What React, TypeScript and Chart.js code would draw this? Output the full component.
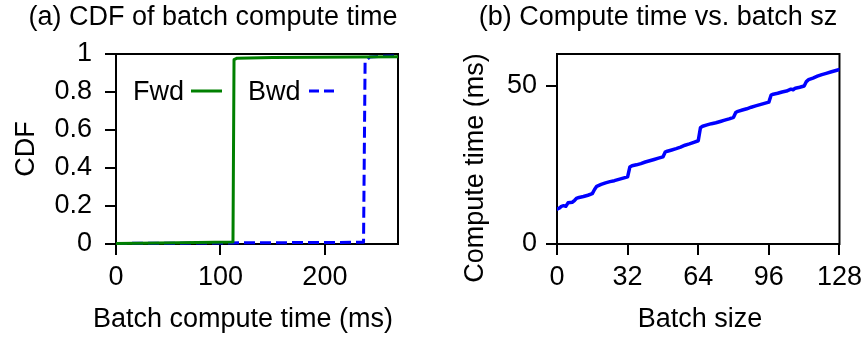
import React, { useEffect, useRef } from "react";
import { Chart, registerables } from "chart.js";

Chart.register(...registerables);

const FONT = "'Liberation Sans', Arial, Helvetica, sans-serif";
const GREEN = "#008000";
const BLUE = "#0000ff";

// ---- (a) CDF of batch compute time ----
const fwdTimes = [0, 60, 112, 113, 116, 150, 270];
const fwdCdf = [0.003, 0.006, 0.01, 0.97, 0.978, 0.982, 0.985];
const bwdTimes = [0, 120, 237, 238.5, 243, 255, 270];
const bwdCdf = [0.003, 0.006, 0.009, 0.96, 0.984, 0.988, 0.99];
const cdfXTicks = [0, 100, 200];
const cdfXTickLabels = ["0", "100", "200"];
const cdfYTicks = [0, 0.2, 0.4, 0.6, 0.8, 1];
const cdfYTickLabels = ["0", "0.2", "0.4", "0.6", "0.8", "1"];
const legendLabels = ["Fwd", "Bwd"];

// ---- (b) Compute time vs. batch size ----
const batchSizes = [
  0, 1, 2, 3, 4, 5, 6, 7, 8, 9, 10, 12, 14, 16, 17, 18, 20, 22, 24, 26, 28, 30, 32, 33, 34, 36, 38, 40, 42,
  44, 46, 48, 49, 50, 52, 54, 56, 58, 60, 62, 64, 65, 66, 68, 70, 72, 74, 76, 78, 80, 81, 82, 84, 86, 88,
  90, 92, 94, 96, 97, 98, 100, 102, 104, 106, 107, 108, 110, 112, 113, 114, 116, 118, 120, 122, 124, 126,
  128,
];
const computeTimesMs = [
  11.0, 11.3, 11.9, 12.1, 11.9, 13.0, 13.1, 13.2, 13.8, 14.5, 14.7, 15.0, 15.4, 15.9, 17.2, 18.2, 18.8,
  19.3, 19.7, 20.0, 20.4, 20.8, 21.2, 24.3, 24.7, 25.0, 25.4, 25.9, 26.3, 26.7, 27.1, 27.5, 29.0, 29.3,
  29.7, 30.1, 30.6, 31.2, 31.6, 32.1, 32.6, 36.7, 37.2, 37.6, 38.0, 38.3, 38.7, 39.1, 39.5, 40.0, 41.5,
  41.9, 42.3, 42.7, 43.2, 43.6, 44.0, 44.4, 44.8, 47.0, 47.3, 47.6, 48.0, 48.3, 48.9, 48.7, 49.2, 49.5,
  49.9, 51.3, 51.9, 52.4, 53.0, 53.5, 53.9, 54.3, 54.7, 55.1,
];
const bsXTicks = [0, 32, 64, 96, 128];
const bsXTickLabels = ["0", "32", "64", "96", "128"];
const bsYTicks = [0, 50];
const bsYTickLabels = ["0", "50"];

type Txt = { text: string; x: number; y: number; size: number; rot?: boolean; align?: CanvasTextAlign };

function makeDecor(texts: Txt[], legend?: boolean) {
  return {
    id: "decor",
    beforeDatasetsDraw(chart: any) {
      const { ctx, chartArea: a } = chart;
      ctx.save();
      ctx.strokeStyle = "#000";
      ctx.lineWidth = 2;
      ctx.strokeRect(a.left, a.top, a.right - a.left, a.bottom - a.top);
      ctx.restore();
    },
    afterDraw(chart: any) {
      const ctx = chart.ctx as CanvasRenderingContext2D;
      ctx.save();
      ctx.fillStyle = "#000";
      ctx.textBaseline = "alphabetic";
      for (const t of texts) {
        ctx.font = `${t.size}px ${FONT}`;
        ctx.textAlign = t.align || "center";
        if (t.rot) {
          ctx.save();
          ctx.translate(t.x, t.y);
          ctx.rotate(-Math.PI / 2);
          ctx.fillText(t.text, 0, 0);
          ctx.restore();
        } else {
          ctx.fillText(t.text, t.x, t.y);
        }
      }
      if (legend) {
        ctx.font = `27px ${FONT}`;
        ctx.textAlign = "left";
        ctx.fillText(legendLabels[0], 133, 100);
        ctx.fillText(legendLabels[1], 248, 100);
        ctx.lineWidth = 3;
        ctx.strokeStyle = GREEN;
        ctx.beginPath();
        ctx.moveTo(191, 91);
        ctx.lineTo(222, 91);
        ctx.stroke();
        ctx.strokeStyle = BLUE;
        ctx.setLineDash([10, 5]);
        ctx.beginPath();
        ctx.moveTo(309, 91);
        ctx.lineTo(337, 91);
        ctx.stroke();
      }
      ctx.restore();
    },
  };
}

function axis(min: number, max: number, ticks: number[], labels: string[], fit: (s: any) => void, pad: number) {
  return {
    type: "linear" as const,
    min,
    max,
    afterBuildTicks: (s: any) => {
      s.ticks = ticks.map((v) => ({ value: v }));
    },
    afterFit: fit,
    ticks: {
      callback: (_v: any, i: number) => labels[i],
      font: { family: FONT, size: 27 },
      color: "#000",
      padding: pad,
      maxRotation: 0,
      autoSkip: false,
    },
    grid: { drawOnChartArea: false, drawTicks: true, tickLength: 11, color: "#000", lineWidth: 2 },
    border: { display: false },
  };
}

function useChart(ref: React.RefObject<HTMLCanvasElement>, makeConfig: () => any) {
  useEffect(() => {
    if (!ref.current) return;
    const c = new Chart(ref.current, makeConfig());
    return () => c.destroy();
  }, []);
}

export default function App() {
  const leftRef = useRef<HTMLCanvasElement>(null);
  const rightRef = useRef<HTMLCanvasElement>(null);

  useEffect(() => {
    document.body.style.margin = "0";
  }, []);

  useChart(leftRef, () => ({
    type: "line",
    data: {
      datasets: [
        {
          label: legendLabels[0],
          data: fwdTimes.map((x, i) => ({ x, y: fwdCdf[i] })),
          borderColor: GREEN,
          borderWidth: 3,
          pointRadius: 0,
          tension: 0,
          borderJoinStyle: "round",
          clip: 6,
        },
        {
          label: legendLabels[1],
          data: bwdTimes.map((x, i) => ({ x, y: bwdCdf[i] })),
          borderColor: BLUE,
          borderWidth: 3,
          borderDash: [11, 5],
          pointRadius: 0,
          tension: 0,
          borderJoinStyle: "round",
          clip: 6,
        },
      ],
    },
    options: {
      animation: false,
      responsive: false,
      devicePixelRatio: 1,
      layout: { padding: { top: 54, right: 36, left: 0, bottom: 0 } },
      plugins: { legend: { display: false }, tooltip: { enabled: false }, title: { display: false } },
      scales: {
        x: { ...axis(0, 270, cdfXTicks, cdfXTickLabels, (s: any) => { s.height = 95; }, 6), position: "bottom" },
        y: { ...axis(0, 1, cdfYTicks, cdfYTickLabels, (s: any) => { s.width = 116; }, 13), position: "left" },
      },
    },
    plugins: [
      makeDecor(
        [
          { text: "(a) CDF of batch compute time", x: 213, y: 25, size: 27 },
          { text: "Batch compute time (ms)", x: 243, y: 327, size: 27 },
          { text: "CDF", x: 34, y: 149, size: 27, rot: true },
        ],
        true
      ),
    ],
  }));

  useChart(rightRef, () => ({
    type: "line",
    data: {
      datasets: [
        {
          label: "Compute time",
          data: batchSizes.map((x, i) => ({ x, y: computeTimesMs[i] })),
          borderColor: BLUE,
          borderWidth: 3.5,
          pointRadius: 0,
          tension: 0,
          borderJoinStyle: "round",
          borderCapStyle: "round",
        },
      ],
    },
    options: {
      animation: false,
      responsive: false,
      devicePixelRatio: 1,
      layout: { padding: { top: 54, right: 25, left: 0, bottom: 0 } },
      plugins: { legend: { display: false }, tooltip: { enabled: false }, title: { display: false } },
      scales: {
        x: { ...axis(0, 128, bsXTicks, bsXTickLabels, (s: any) => { s.height = 95; }, 6), position: "bottom" },
        y: { ...axis(0, 60, bsYTicks, bsYTickLabels, (s: any) => { s.width = 123; }, 9), position: "left" },
      },
    },
    plugins: [
      makeDecor([
        { text: "(b) Compute time vs. batch sz", x: 224, y: 25, size: 27 },
        { text: "Batch size", x: 266, y: 327, size: 27 },
        { text: "Compute time (ms)", x: 49, y: 168, size: 27, rot: true },
      ]),
    ],
  }));

  return (
    <div style={{ position: "absolute", left: 0, top: 0, width: 868, height: 339, display: "flex", background: "#fff" }}>
      <canvas ref={leftRef} width={434} height={339} style={{ display: "block", width: 434, height: 339 }} />
      <canvas ref={rightRef} width={434} height={339} style={{ display: "block", width: 434, height: 339 }} />
    </div>
  );
}
